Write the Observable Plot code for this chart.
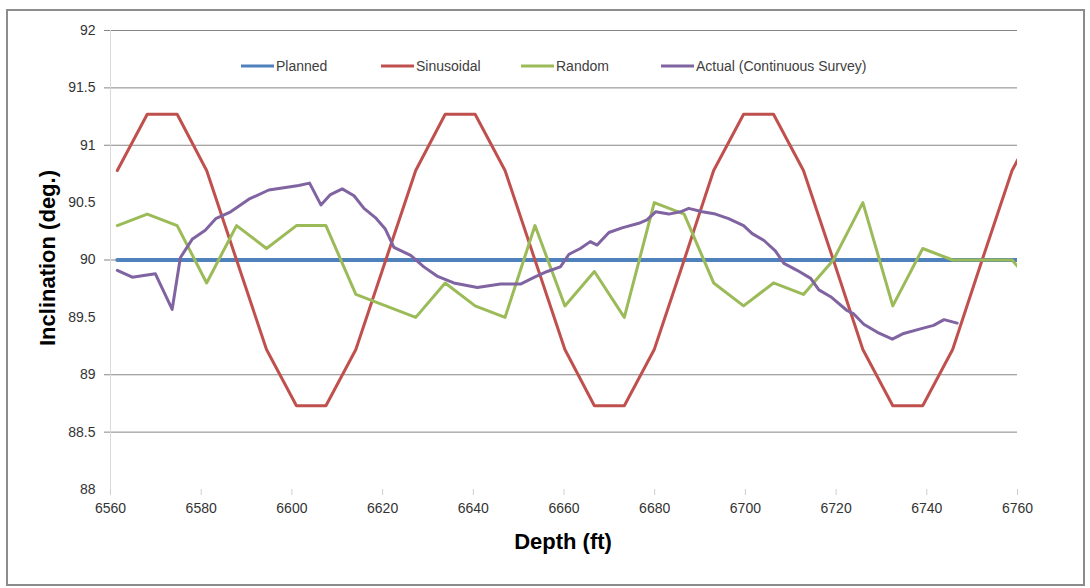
<!DOCTYPE html>
<html><head><meta charset="utf-8">
<script src="https://cdn.jsdelivr.net/npm/d3@7"></script>
<script src="https://cdn.jsdelivr.net/npm/@observablehq/plot@0.6"></script>
<style>body{margin:0;background:#fff} svg{display:block}</style>
</head><body><div id="chart"></div>
<script>
const seriesNames = ["Planned", "Sinusoidal", "Random", "Actual (Continuous Survey)"];
const seriesColors = ["#4F81BD", "#C0504D", "#9BBB59", "#8064A2"];

const sampleDepth = [6561.5, 6568.1, 6574.7, 6581.2, 6587.8, 6594.4, 6601.0, 6607.5, 6614.1, 6620.7,
  6627.3, 6633.8, 6640.4, 6647.0, 6653.6, 6660.2, 6666.7, 6673.3, 6679.9, 6686.5,
  6693.0, 6699.6, 6706.2, 6712.8, 6719.4, 6725.9, 6732.5, 6739.1, 6745.7, 6752.2,
  6758.8, 6765.4];
const planned = [90, 90, 90, 90, 90, 90, 90, 90, 90, 90, 90, 90, 90, 90, 90, 90,
  90, 90, 90, 90, 90, 90, 90, 90, 90, 90, 90, 90, 90, 90, 90, 90];
const sinusoidal = [90.78, 91.27, 91.27, 90.78, 90, 89.22, 88.73, 88.73, 89.22, 90,
  90.78, 91.27, 91.27, 90.78, 90, 89.22, 88.73, 88.73, 89.22, 90,
  90.78, 91.27, 91.27, 90.78, 90, 89.22, 88.73, 88.73, 89.22, 90,
  90.78, 91.27];
const random = [90.3, 90.4, 90.3, 89.8, 90.3, 90.1, 90.3, 90.3, 89.7, 89.6,
  89.5, 89.8, 89.6, 89.5, 90.3, 89.6, 89.9, 89.5, 90.5, 90.4,
  89.8, 89.6, 89.8, 89.7, 90.0, 90.5, 89.6, 90.1, 90.0, 90.0,
  90.0, 89.7];

const actualDepth = [6561.5, 6564.8, 6569.9, 6573.6, 6575.4, 6578.0, 6580.9, 6583.2, 6586.5, 6590.5,
  6594.9, 6601.5, 6603.9, 6606.4, 6608.5, 6611.1, 6613.7, 6615.9, 6618.4, 6620.6,
  6622.5, 6626.2, 6629.1, 6632.0, 6635.7, 6640.9, 6646.0, 6650.4, 6653.5, 6656.3,
  6659.2, 6661.1, 6663.6, 6665.8, 6667.3, 6669.9, 6672.8, 6676.5, 6678.3, 6680.2,
  6683.1, 6685.7, 6687.5, 6690.5, 6693.4, 6696.3, 6699.6, 6701.5, 6704.1, 6706.6,
  6708.5, 6711.4, 6714.4, 6716.2, 6718.8, 6722.4, 6723.9, 6726.1, 6729.1, 6732.4,
  6734.9, 6738.6, 6741.5, 6743.8, 6746.7];
const actual = [89.91, 89.85, 89.88, 89.57, 90.02, 90.18, 90.26, 90.36, 90.42, 90.53,
  90.61, 90.65, 90.67, 90.48, 90.57, 90.62, 90.56, 90.45, 90.37, 90.27,
  90.11, 90.04, 89.94, 89.86, 89.80, 89.76, 89.79, 89.79, 89.85, 89.90,
  89.94, 90.05, 90.10, 90.16, 90.13, 90.24, 90.28, 90.32, 90.35, 90.42,
  90.40, 90.42, 90.45, 90.42, 90.40, 90.36, 90.30, 90.23, 90.17, 90.08,
  89.97, 89.91, 89.84, 89.74, 89.68, 89.56, 89.53, 89.44, 89.37, 89.31,
  89.36, 89.40, 89.43, 89.48, 89.45];

const xTicks = [6560, 6580, 6600, 6620, 6640, 6660, 6680, 6700, 6720, 6740, 6760];
const yTicks = [88, 88.5, 89, 89.5, 90, 90.5, 91, 91.5, 92];
const yGrid = [88.5, 89, 90, 91, 91.5, 92];
const xTitle = "Depth (ft)";
const yTitle = "Inclination (deg.)";

const toRows = (xs, ys) => xs.map((d, i) => ({depth: d, incl: ys[i]}));
const seriesRows = [
  toRows(sampleDepth, planned),
  toRows(sampleDepth, sinusoidal),
  toRows(sampleDepth, random),
  toRows(actualDepth, actual)
];
const widths = [4, 3, 3, 3];

const svg = Plot.plot({
  width: 1090, height: 588,
  marginLeft: 110, marginRight: 73, marginTop: 30, marginBottom: 99,
  style: {fontFamily: "'Liberation Sans', Arial, sans-serif", fontSize: "14px", color: "#333", background: "#fff"},
  x: {domain: [6560, 6760], label: null},
  y: {domain: [88, 92], label: null},
  marks: [
    Plot.ruleY(yGrid, {stroke: "#868686", strokeWidth: 1}),
    Plot.ruleX([6560], {stroke: "#d9d9d9", strokeWidth: 1}),
    Plot.axisY(yTicks, {tickSize: 0, tickPadding: 15, tickFormat: d => String(d), label: null, fill: "#333"}),
    Plot.axisY(yGrid, {tickSize: 6, tickFormat: () => "", stroke: "#868686", label: null}),
    Plot.axisX(xTicks, {tickSize: 0, tickPadding: 14, tickFormat: d => String(d), label: null, fill: "#333"}),
    Plot.axisX(xTicks, {tickSize: 6, tickFormat: () => "", stroke: "#cfcfcf", label: null}),
    ...seriesRows.map((rows, i) => Plot.line(rows, {
      x: "depth", y: "incl", stroke: seriesColors[i], strokeWidth: widths[i], clip: true
    }))
  ]
});

const s = d3.select(svg);
s.append("rect").attr("x", 7).attr("y", 10).attr("width", 1077).attr("height", 575)
  .attr("fill", "none").attr("stroke", "#8c8c8c").attr("stroke-width", 2);

const legendX = [241, 381, 521, 661];
const lg = s.append("g").attr("font-family", "'Liberation Sans', Arial, sans-serif").attr("font-size", 14)
  .attr("text-anchor", "start");
seriesNames.forEach((name, i) => {
  lg.append("line").attr("x1", legendX[i]).attr("x2", legendX[i] + 33).attr("y1", 66).attr("y2", 66)
    .attr("stroke", seriesColors[i]).attr("stroke-width", 3);
  lg.append("text").attr("x", legendX[i] + 35).attr("y", 66).attr("dy", "0.35em")
    .attr("text-anchor", "start").attr("fill", "#404040").text(name);
});

s.append("text").attr("x", 563).attr("y", 541).attr("dy", "0.35em").attr("text-anchor", "middle")
  .attr("font-family", "'Liberation Sans', Arial, sans-serif").attr("font-size", 22).attr("font-weight", "bold")
  .attr("fill", "#000").text(xTitle);
s.append("text").attr("transform", "translate(47,258) rotate(-90)").attr("dy", "0.35em").attr("text-anchor", "middle")
  .attr("font-family", "'Liberation Sans', Arial, sans-serif").attr("font-size", 22).attr("font-weight", "bold")
  .attr("fill", "#000").text(yTitle);

document.getElementById("chart").appendChild(svg);
</script>
</body></html>
